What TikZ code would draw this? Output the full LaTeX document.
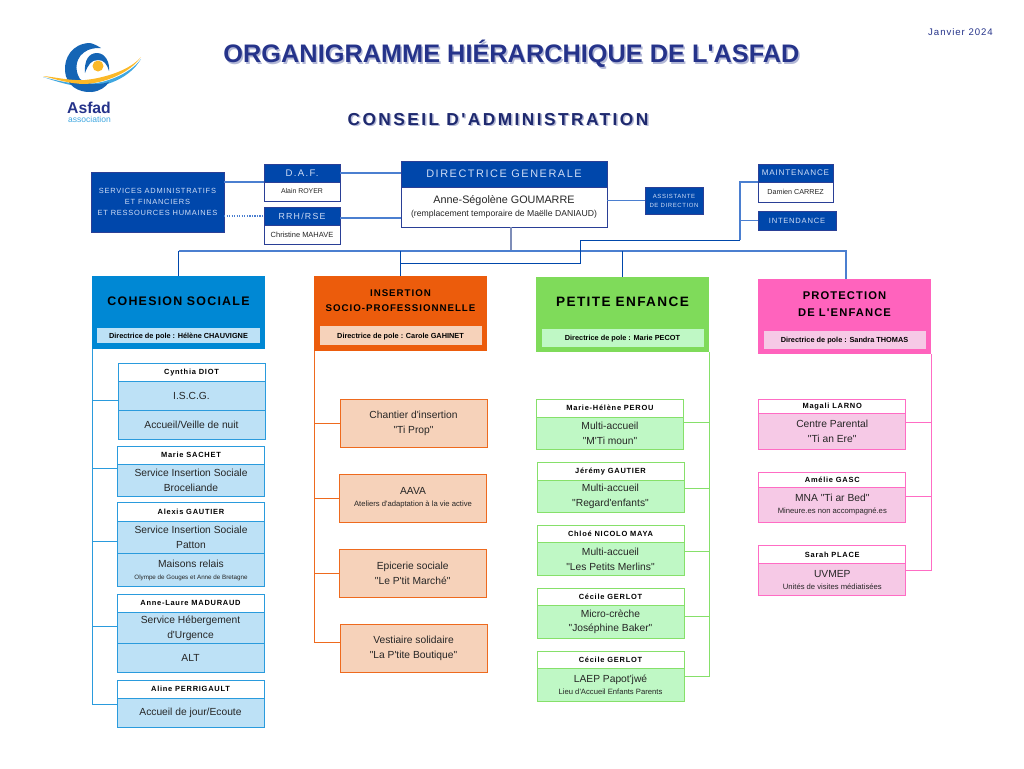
\documentclass[tikz,border=0pt]{standalone}
\usepackage{fontspec}
\setmainfont{Liberation Sans}[Ligatures=TeXOff]
\newfontfamily\spacedfont[LetterSpace=10]{Liberation Sans}
\newfontfamily\widefont[LetterSpace=14]{Liberation Sans}
\usetikzlibrary{calc}

\definecolor{asfadblue}{HTML}{0047AB}
\definecolor{navy}{HTML}{25338A}
\definecolor{navyedge}{HTML}{2A3F96}
\definecolor{paleblue}{HTML}{CFDDF6}
\definecolor{linkblue}{HTML}{4B7FD0}
\definecolor{trunk}{HTML}{7E8DB8}
\definecolor{csdark}{HTML}{0088D4}
\definecolor{cslight}{HTML}{BDE1F6}
\definecolor{csedge}{HTML}{2A9BDD}
\definecolor{isdark}{HTML}{EC5C0C}
\definecolor{islight}{HTML}{F6D2BA}
\definecolor{isedge}{HTML}{EE6A1E}
\definecolor{pedark}{HTML}{7FDB5A}
\definecolor{pelight}{HTML}{BFF8C5}
\definecolor{peedge}{HTML}{86E06A}
\definecolor{ppdark}{HTML}{FF63BD}
\definecolor{pplight}{HTML}{F6C9E6}
\definecolor{ppedge}{HTML}{FF6CC4}
\definecolor{sunny}{HTML}{FBB828}
\definecolor{logoblue}{HTML}{1565B5}
\definecolor{logolight}{HTML}{3FA7E0}

\newcommand{\px}{0.75pt}
\newcommand{\subfont}{\fontsize{5.75}{6.5}\selectfont}
\newcommand{\shadowed}[3]{\leavevmode\rlap{\raisebox{-1.3pt}{\kern1.1pt\textcolor{#1}{#3}}}\textcolor{#2}{#3}}

\tikzset{
	every node/.style={inner sep=0pt, outer sep=0pt, align=center},
	bluebox/.style={fill=asfadblue, draw=navyedge, line width=0.5pt, text=paleblue},
	namebox/.style={fill=white, draw=navyedge, line width=0.7pt, text=black!85},
	polebox/.style={fill=#1dark, minimum width=173*\px},
	poledir/.style={fill=#1light, minimum width=162*\px, minimum height=17*\px, text=black,
		text height=4pt, text depth=0pt, font=\fontsize{5.5}{7}\selectfont\bfseries},
	poletitle/.style={text=black, font=\spacedfont\fontsize{9.3}{12.8}\selectfont\bfseries},
	headbox/.style={fill=white, draw=#1edge, line width=0.75pt, minimum width=147*\px, text=black,
		text height=4pt, text depth=0pt, font=\spacedfont\fontsize{5.6}{7}\selectfont\bfseries},
	rowbox/.style={fill=#1light, draw=#1edge, line width=0.75pt, minimum width=147*\px, text=black!85,
		font=\fontsize{7.7}{11.2}\selectfont},
	branch/.style={draw=#1edge, line width=0.75pt},
	bus/.style={draw=linkblue, line width=0.9pt},
	thinlink/.style={draw=asfadblue, line width=0.6pt}
}

\begin{document}
\begin{tikzpicture}[x=0.75pt, y=-0.75pt]
	\useasboundingbox (0,0) rectangle (1024,768);

	\fill[logolight] (43,77) .. controls (55,80) and (70,84) .. (85,84) .. controls (105,84) and (130,74) .. (141,59) .. controls (130,78) and (105,88) .. (85,87) .. controls (70,86) and (55,81) .. (43,77) -- cycle;
	\fill[logoblue] (89,43) .. controls (72,44) and (64,58) .. (65,71) .. controls (66,85) and (78,93) .. (92,92) .. controls (100,91) and (106,87) .. (109,82) .. controls (100,85) and (88,85) .. (80,79) .. controls (74,70) and (75,56) .. (88,50) .. controls (93,48) and (97,48) .. (101,48) .. controls (96,45) and (92,43) .. (89,43) -- cycle;
	\fill[sunny] (43,76) .. controls (55,77) and (70,81) .. (85,80) .. controls (105,78) and (130,70) .. (141,57) .. controls (130,73) and (105,83) .. (85,84) .. controls (70,84) and (55,79) .. (43,76) -- cycle;
	\fill[logoblue] (85,73) .. controls (84,60) and (89,53) .. (97,53) .. controls (105,53) and (110,62) .. (109,71) .. controls (107,64) and (104,60) .. (98,60) .. controls (91,60) and (88,65) .. (85,73) -- cycle;
	\fill[sunny] (98,66) circle[radius=5.5];
	\node[text=navy, font=\fontsize{11.8}{13}\selectfont\bfseries] (asfad) at (89,107.5) {Asfad};
	\node[text=logolight, font=\fontsize{6.4}{7}\selectfont] (assoc) at (89.5,119) {association};

	\node[font=\fontsize{19}{24}\selectfont\bfseries] (title) at (511.5,55) {\shadowed{navy!35}{navy}{ORGANIGRAMME HIÉRARCHIQUE DE L'ASFAD}};
	\node[font=\widefont\fontsize{13}{15}\selectfont\bfseries] (ca) at (498,120) {\shadowed{navy!35}{navy!80!black}{CONSEIL D'ADMINISTRATION}};
	\node[text=navy, font=\spacedfont\fontsize{7.2}{9}\selectfont] (date) at (960.5,32) {Janvier 2024};

	\node[bluebox, minimum width=133*\px, minimum height=60*\px, font=\spacedfont\fontsize{5.6}{8.2}\selectfont] (sa) at (157.5,202) {SERVICES ADMINISTRATIFS\\ET FINANCIERS\\ET RESSOURCES HUMAINES};
	\node[bluebox, minimum width=76*\px, minimum height=18*\px, font=\widefont\fontsize{7.2}{9}\selectfont] (daf) at (302,173) {D.A.F.};
	\node[namebox, minimum width=76*\px, minimum height=19*\px, font=\fontsize{5.2}{7}\selectfont] (dafname) at (302,191.5) {Alain ROYER};
	\node[bluebox, minimum width=76*\px, minimum height=18*\px, font=\widefont\fontsize{6.6}{9}\selectfont] (rrh) at (302,216) {RRH/RSE};
	\node[namebox, minimum width=76*\px, minimum height=19*\px, font=\fontsize{5.6}{7}\selectfont] (rrhname) at (302,234.5) {Christine MAHAVE};
	\node[bluebox, minimum width=206*\px, minimum height=26*\px, font=\widefont\fontsize{8.2}{11}\selectfont] (dg) at (504,174) {DIRECTRICE GENERALE};
	\node[namebox, minimum width=206*\px, minimum height=40*\px, font=\fontsize{8.1}{10}\selectfont] (dgname) at (504,207) {Anne-Ségolène GOUMARRE\\{\fontsize{6.5}{8}\selectfont (remplacement temporaire de Maëlle DANIAUD)}};
	\node[bluebox, minimum width=58*\px, minimum height=27*\px, font=\spacedfont\fontsize{4.5}{6.8}\selectfont] (asst) at (674,200.5) {ASSISTANTE\\DE DIRECTION};
	\node[bluebox, minimum width=75*\px, minimum height=18*\px, font=\spacedfont\fontsize{6.1}{8}\selectfont] (maint) at (795.5,173) {MAINTENANCE};
	\node[namebox, minimum width=75*\px, minimum height=20*\px, font=\fontsize{5.4}{7}\selectfont] (maintname) at (795.5,192) {Damien CARREZ};
	\node[bluebox, minimum width=78*\px, minimum height=19*\px, font=\spacedfont\fontsize{5.7}{8}\selectfont] (inten) at (797,220.5) {INTENDANCE};

	\node[polebox=cs, minimum height=73*\px] (cs) at (178.5,312.5) {};
	\node[poletitle=cs] (cstitle) at (178.5,301) {COHESION SOCIALE};
	\node[poledir=cs, minimum width=163*\px, minimum height=15*\px] (csdir) at (178.5,335.5) {Directrice de pole : Hélène CHAUVIGNE};
	\node[polebox=is, minimum height=75*\px] (is) at (400.5,313.5) {};
	\node[poletitle=is, font=\spacedfont\fontsize{7.3}{11.2}\selectfont\bfseries] (istitle) at (400.5,300.5) {INSERTION\\SOCIO-PROFESSIONNELLE};
	\node[poledir=is, minimum height=19*\px] (isdir) at (400.5,335.5) {Directrice de pole : Carole GAHINET};
	\node[polebox=pe, minimum height=75*\px] (pe) at (622.5,314.5) {};
	\node[poletitle=pe, font=\spacedfont\fontsize{10.2}{13}\selectfont\bfseries] (petitle) at (622.5,302) {PETITE ENFANCE};
	\node[poledir=pe, minimum height=18*\px] (pedir) at (622.5,338) {Directrice de pole : Marie PECOT};
	\node[polebox=pp, minimum height=75*\px] (pp) at (844.5,316.5) {};
	\node[poletitle=pp, font=\spacedfont\fontsize{8.4}{12.7}\selectfont\bfseries] (pptitle) at (844.5,304) {PROTECTION\\DE L'ENFANCE};
	\node[poledir=pp, minimum height=18*\px] (ppdir) at (844.5,340) {Directrice de pole : Sandra THOMAS};

	\node[headbox=cs, minimum height=18*\px] (csa) at (191.5,372) {Cynthia DIOT};
	\node[rowbox=cs, minimum height=29*\px] (csa1) at (191.5,395.5) {I.S.C.G.};
	\node[rowbox=cs, minimum height=29*\px] (csa2) at (191.5,424.5) {Accueil/Veille de nuit};
	\node[headbox=cs, minimum height=18*\px] (csb) at (191,455) {Marie SACHET};
	\node[rowbox=cs, minimum height=32*\px] (csb1) at (191,480) {Service Insertion Sociale\\Broceliande};
	\node[headbox=cs, minimum height=18.7*\px] (csc) at (191,512.3) {Alexis GAUTIER};
	\node[rowbox=cs, minimum height=32*\px] (csc1) at (191,537.7) {Service Insertion Sociale\\Patton};
	\node[rowbox=cs, minimum height=33*\px] (csc2) at (191,570.2) {Maisons relais\\[-2.2pt]{\fontsize{4.7}{6}\selectfont Olympe de Gouges et Anne de Bretagne}};
	\node[headbox=cs, minimum height=18*\px] (csd) at (190.5,603) {Anne-Laure MADURAUD};
	\node[rowbox=cs, minimum height=32*\px] (csd1) at (190.5,628) {Service Hébergement\\d'Urgence};
	\node[rowbox=cs, minimum height=28.7*\px] (csd2) at (190.5,658.3) {ALT};
	\node[headbox=cs, minimum height=18*\px] (cse) at (190.5,689) {Aline PERRIGAULT};
	\node[rowbox=cs, minimum height=29*\px] (cse1) at (190.5,712.5) {Accueil de jour/Ecoute};

	\node[rowbox=is, minimum height=48*\px] (isa) at (413.5,423) {Chantier d'insertion\\"Ti Prop"};
	\node[rowbox=is, minimum height=48*\px] (isb) at (413,498) {AAVA\\[-2.2pt]{\subfont Ateliers d'adaptation à la vie active}};
	\node[rowbox=is, minimum height=48*\px] (isc) at (412.7,573) {Epicerie sociale\\"Le P'tit Marché"};
	\node[rowbox=is, minimum height=48*\px] (isd) at (413.5,648) {Vestiaire solidaire\\"La P'tite Boutique"};

	\node[headbox=pe, minimum height=18*\px] (pea) at (610,408) {Marie-Hélène PEROU};
	\node[rowbox=pe, minimum height=32*\px] (pea1) at (610,433) {Multi-accueil\\"M'Ti moun"};
	\node[headbox=pe, minimum height=18*\px] (peb) at (610.5,471) {Jérémy GAUTIER};
	\node[rowbox=pe, minimum height=32*\px] (peb1) at (610.5,496) {Multi-accueil\\"Regard'enfants"};
	\node[headbox=pe, minimum height=17*\px] (pec) at (610.5,533.8) {Chloé NICOLO MAYA};
	\node[rowbox=pe, minimum height=33.5*\px] (pec1) at (610.5,559) {Multi-accueil\\"Les Petits Merlins"};
	\node[headbox=pe, minimum height=17.5*\px] (ped) at (610.5,596.8) {Cécile GERLOT};
	\node[rowbox=pe, minimum height=32.5*\px] (ped1) at (610.5,621.8) {Micro-crèche\\"Joséphine Baker"};
	\node[headbox=pe, minimum height=16.5*\px] (pee) at (610.5,659.8) {Cécile GERLOT};
	\node[rowbox=pe, minimum height=33*\px] (pee1) at (610.5,684.5) {LAEP Papot'jwé\\[-2.2pt]{\subfont Lieu d'Accueil Enfants Parents}};

	\node[headbox=pp, minimum height=14*\px] (ppa) at (832.2,406) {Magali LARNO};
	\node[rowbox=pp, minimum height=36*\px] (ppa1) at (832.2,431) {Centre Parental\\"Ti an Ere"};
	\node[headbox=pp, minimum height=15*\px] (ppb) at (832.3,480.2) {Amélie GASC};
	\node[rowbox=pp, minimum height=34.6*\px] (ppb1) at (832.3,505) {MNA "Ti ar Bed"\\[-2.2pt]{\subfont Mineure.es non accompagné.es}};
	\node[headbox=pp, minimum height=18*\px] (ppc) at (832.3,554.7) {Sarah PLACE};
	\node[rowbox=pp, minimum height=32*\px] (ppc1) at (832.3,579.7) {UVMEP\\[-2.2pt]{\subfont Unités de visites médiatisées}};

	\coordinate (busdrop) at (846,251);
	\coordinate (busfoot) at (511,251);
	\coordinate (lowbus) at (580,263);
	\coordinate (highbus) at (740,240);

	\draw[bus] (sa.east |- daf.south) -- (daf.south west);
	\draw[bus, densely dotted] (sa.east |- rrh.west) -- (rrh.west);
	\draw[bus] (daf.east) -- (dg.west |- daf.east);
	\draw[bus] ([yshift=-1.5pt]rrh.east) -- ([yshift=-1.5pt]dg.west |- rrh.east);
	\draw[bus] (dgname.east |- asst.west) -- (asst.west);
	\draw[draw=trunk, line width=1.5pt] (busfoot |- dgname.south) -- (busfoot);
	\draw[bus] (cs.north |- busdrop) -- (busdrop) -- (busdrop |- pp.north);
	\draw[thinlink] (cs.north |- busdrop) -- (cs.north);
	\draw[thinlink] (is.north |- busdrop) -- (is.north);
	\draw[thinlink] (pe.north |- busdrop) -- (pe.north);
	\draw[bus] (maint.south west) -| (highbus);
	\draw[bus] (inten.west) -- (inten.west -| highbus);
	\draw[thinlink] (highbus) -- (highbus -| lowbus) -- (lowbus) -- (lowbus -| is.north);

	\coordinate (csend) at (92,704);
	\draw[branch=cs] (cs.south west) -- (cs.south west |- csend) -- (cse.west |- csend);
	\foreach \item/\y in {csa/400,csb/468,csc/541,csd/626}
		\draw[branch=cs] (cs.south west |- 0,\y) -- (\item.west |- 0,\y);

	\coordinate (isend) at (314.5,642);
	\draw[branch=is] (is.south west) -- (is.south west |- isend) -- (isd.west |- isend);
	\foreach \item in {isa,isb,isc}
		\draw[branch=is] (is.south west |- \item.west) -- (\item.west);

	\coordinate (peend) at (708,676);
	\draw[branch=pe] (pe.south east) -- (pe.south east |- peend) -- (pee1.east |- peend);
	\foreach \item/\y in {pea/422,peb/488,pec/551,ped/616}
		\draw[branch=pe] (\item.east |- 0,\y) -- (pe.south east |- 0,\y);

	\coordinate (ppend) at (930.3,570);
	\draw[branch=pp] (pp.south east) -- (pp.south east |- ppend) -- (ppc1.east |- ppend);
	\foreach \item/\y in {ppa/422,ppb/496}
		\draw[branch=pp] (\item.east |- 0,\y) -- (pp.south east |- 0,\y);
\end{tikzpicture}
\end{document}
